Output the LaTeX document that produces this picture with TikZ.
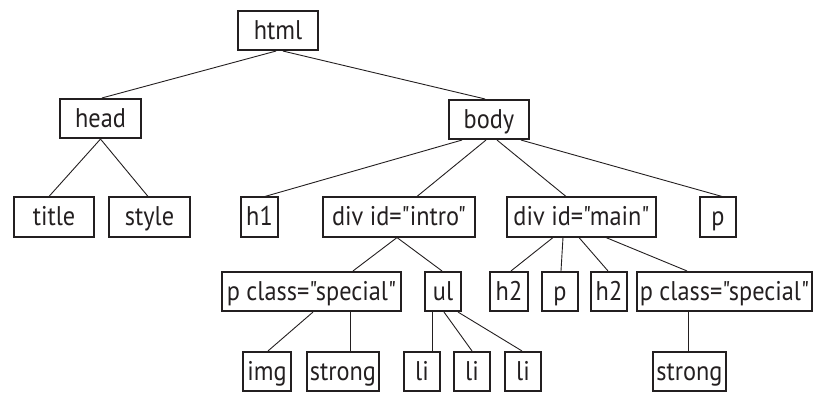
\documentclass[tikz,border=0pt]{standalone}
\usepackage{fontspec}
\newfontfamily\boxfont{PT Sans}[FakeStretch=0.9]
\usetikzlibrary{calc}
\definecolor{ink}{HTML}{231F20}
\tikzset{
  box/.style={draw=ink, line width=0.8pt, inner sep=0pt, text=ink,
    font=\boxfont\fontsize{13.5}{15}\selectfont, text height=10pt, text depth=1.5pt,
    minimum height=19.75pt},
  link/.style={draw=ink, line width=0.45pt}
}
\begin{document}
\begin{tikzpicture}[x=0.5pt,y=-0.5pt]
\useasboundingbox (0,0) rectangle (816,392);
% level 1
\node[box, minimum width=40.25pt] (html) at (278,30.5) {html};
% level 2
\node[box, minimum width=40.75pt] (head) at (100.5,118.5) {head};
\node[box, minimum width=40.25pt] (body) at (489,119.5) {body};
% level 3
\node[box, minimum width=40.25pt] (title) at (54,217) {title};
\node[box, minimum width=40.75pt] (style) at (149.5,217) {style};
\node[box, minimum width=18.75pt] (h1) at (259.5,217) {h1};
\node[box, minimum width=76.25pt] (intro) at (399,217) {div id="intro"};
\node[box, minimum width=74.75pt] (main) at (581.5,217) {div id="main"};
\node[box, minimum width=18.25pt] (p1) at (718,217) {p};
% level 4
\node[box, minimum width=89.75pt] (pc1) at (311.5,291.5) {p class="special"};
\node[box, minimum width=18.25pt] (ul) at (443,291.5) {ul};
\node[box, minimum width=19.25pt] (h2a) at (509,291.5) {h2};
\node[box, minimum width=18.25pt] (p2) at (560,291.5) {p};
\node[box, minimum width=18.25pt] (h2b) at (609,291.5) {h2};
\node[box, minimum width=87.75pt] (pc2) at (724.5,291.5) {p class="special"};
% level 5
\node[box, minimum width=24.25pt] (img) at (267,371.5) {img};
\node[box, minimum width=36.25pt] (strong1) at (343,371.5) {strong};
\node[box, minimum width=18.25pt] (li1) at (422,371.5) {li};
\node[box, minimum width=18.25pt] (li2) at (472,371.5) {li};
\node[box, minimum width=18.25pt] (li3) at (523,371.5) {li};
\node[box, minimum width=36.75pt] (strong2) at (689.5,371.5) {strong};
% connectors
\draw[link] ($(html.south)+(-2,0)$) -- ($(head.north)+(1.5,0)$);
\draw[link] ($(html.south)+(5,0)$) -- ($(body.north)+(-4,0)$);
\draw[link] (head.south) -- ($(title.north)+(-5,0)$);
\draw[link] (head.south) -- ($(style.north)+(-1.5,0)$);
\draw[link] ($(body.south)+(-27,0)$) -- ($(h1.north)+(5.5,0)$);
\draw[link] ($(body.south)+(-3,0)$) -- ($(intro.north)+(18,0)$);
\draw[link] ($(body.south)+(8,0)$) -- ($(main.north)+(-15.5,0)$);
\draw[link] ($(body.south)+(32,0)$) -- ($(p1.north)+(4,0)$);
\draw[link] ($(intro.south)+(-2,0)$) -- ($(pc1.north)+(41.5,0)$);
\draw[link] ($(intro.south)+(-2,0)$) -- ($(ul.north)+(-1,0)$);
\draw[link] ($(main.south)+(-28.5,0)$) -- ($(h2a.north)+(2,0)$);
\draw[link] ($(main.south)+(-18.5,0)$) -- ($(p2.north)+(1,0)$);
\draw[link] ($(main.south)+(-2.5,0)$) -- ($(h2b.north)+(-1,0)$);
\draw[link] ($(main.south)+(24.5,0)$) -- ($(pc2.north)+(-37.5,0)$);
\draw[link] ($(pc1.south)+(1.5,0)$) -- ($(img.north)+(1,0)$);
\draw[link] ($(pc1.south)+(38.5,0)$) -- ($(strong1.north)+(7,0)$);
\draw[link] ($(ul.south)+(-11,0)$) -- ($(li1.north)+(10,0)$);
\draw[link] ($(ul.south)+(1,0)$) -- (li2.north);
\draw[link] ($(ul.south)+(15,0)$) -- ($(li3.north)+(-1,0)$);
\draw[link] ($(pc2.south)+(-36.5,0)$) -- ($(strong2.north)+(-1.5,0)$);
\end{tikzpicture}
\end{document}
